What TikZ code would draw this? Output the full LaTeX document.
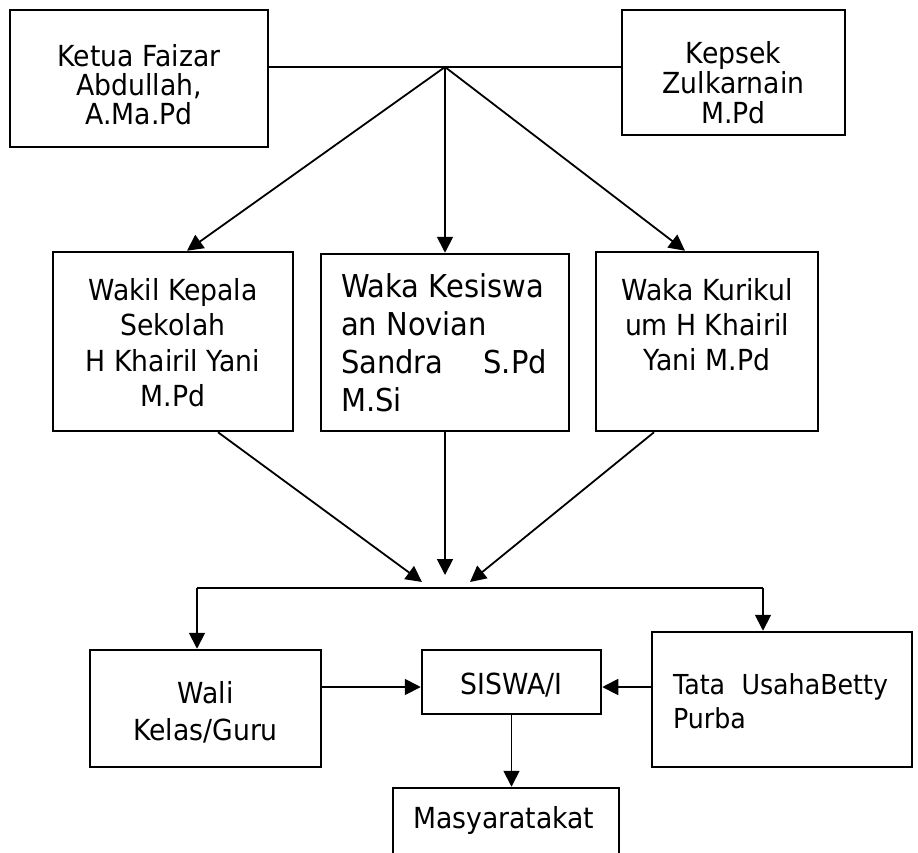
\documentclass[tikz,border=0pt]{standalone}
\usepackage{fontspec}
\setmainfont{DejaVu Sans}[FakeStretch=0.92]
\usepackage{tikz}
\usetikzlibrary{arrows.meta,calc,positioning}
\newcommand{\isi}[5]{\parbox[c][#2][t]{#1}{#4\rule{0pt}{#3}#5}}

\begin{document}
\begin{tikzpicture}[x=1pt,y=-1pt,
  kotak/.style={draw,line width=2.5pt,inner sep=0pt,font=\fontsize{29}{35}\selectfont},
  panah/.style={-{Triangle[length=16pt,width=16pt]},line width=1.8pt},
  garis/.style={line width=1.2pt}]
  \useasboundingbox (0,0) rectangle (918,852);
  \node[kotak] (ketua) at (139,78.5) {\isi{258pt}{137pt}{56pt}{\centering\baselineskip=29pt}{Ketua Faizar\\Abdullah,\\A.Ma.Pd}};
  \node[kotak] (kepsek) at (733.5,72.5) {\isi{223pt}{125pt}{53pt}{\centering\baselineskip=30pt}{Kepsek\\Zulkarnain\\M.Pd}};
  \node[kotak] (wakil) at (173,341.5) {\isi{240pt}{179pt}{48pt}{\centering\baselineskip=35.5pt}{Wakil Kepala\\Sekolah\\H Khairil Yani\\M.Pd}};
  \node[kotak] (kesiswaan) at (445,342.5) {\isi{248pt}{177pt}{43pt}{\fontsize{31.5}{38}\selectfont\leftskip=20pt}{Waka Kesiswa\\an Novian\\\makebox[206pt][s]{Sandra\hfill S.Pd}\\M.Si}};
  \node[kotak] (kurikulum) at (707,341.5) {\isi{222pt}{179pt}{48pt}{\centering\baselineskip=35pt}{Waka Kurikul\\um H Khairil\\Yani M.Pd}};
  \node[kotak] (wali) at (205.5,708.5) {\isi{231pt}{117pt}{53pt}{\centering\baselineskip=37pt}{Wali\\Kelas/Guru}};
  \node[kotak] (siswa) at (511.5,682) {\isi{179pt}{64pt}{44pt}{\centering}{SISWA/I}};
  \node[kotak] (tata) at (782,699.5) {\isi{260pt}{135pt}{62pt}{\fontsize{27.5}{34}\selectfont\leftskip=21pt}{\makebox[215pt][s]{Tata\hfill UsahaBetty}\\Purba}};
  \node[kotak] (masy) at (506,838) {\isi{226pt}{100pt}{40pt}{\leftskip=20pt}{Masyaratakat}};

  \coordinate (puncak) at (445,67);
  \coordinate (temu) at (445,582);
  \coordinate (kiri) at (197,588);
  \coordinate (kanan) at (763,588);
  \coordinate (tengah) at ([yshift=-5pt]siswa.center);

  \draw[garis] (ketua.east |- puncak) -- (kepsek.west |- puncak);
  \draw[panah] (puncak) -- ([xshift=14pt]wakil.north);
  \draw[panah] (puncak) -- (kesiswaan.north);
  \draw[panah] (puncak) -- ([xshift=-22pt]kurikulum.north);
  \draw[panah] ([xshift=45pt]wakil.south) -- ([xshift=-23pt]temu);
  \draw[panah] (kesiswaan.south) -- ([yshift=7pt]temu);
  \draw[panah] ([xshift=-53pt]kurikulum.south) -- ([xshift=25pt]temu);
  \draw[garis] (kiri) -- (kanan);
  \draw[panah] (kiri) -- (kiri |- wali.north);
  \draw[panah] (kanan) -- (kanan |- tata.north);
  \draw[panah] (wali.east |- tengah) -- (siswa.west |- tengah);
  \draw[panah] (tata.west |- tengah) -- (siswa.east |- tengah);
  \draw[panah] (siswa.south) -- (siswa.south |- masy.north);
\end{tikzpicture}
\end{document}
